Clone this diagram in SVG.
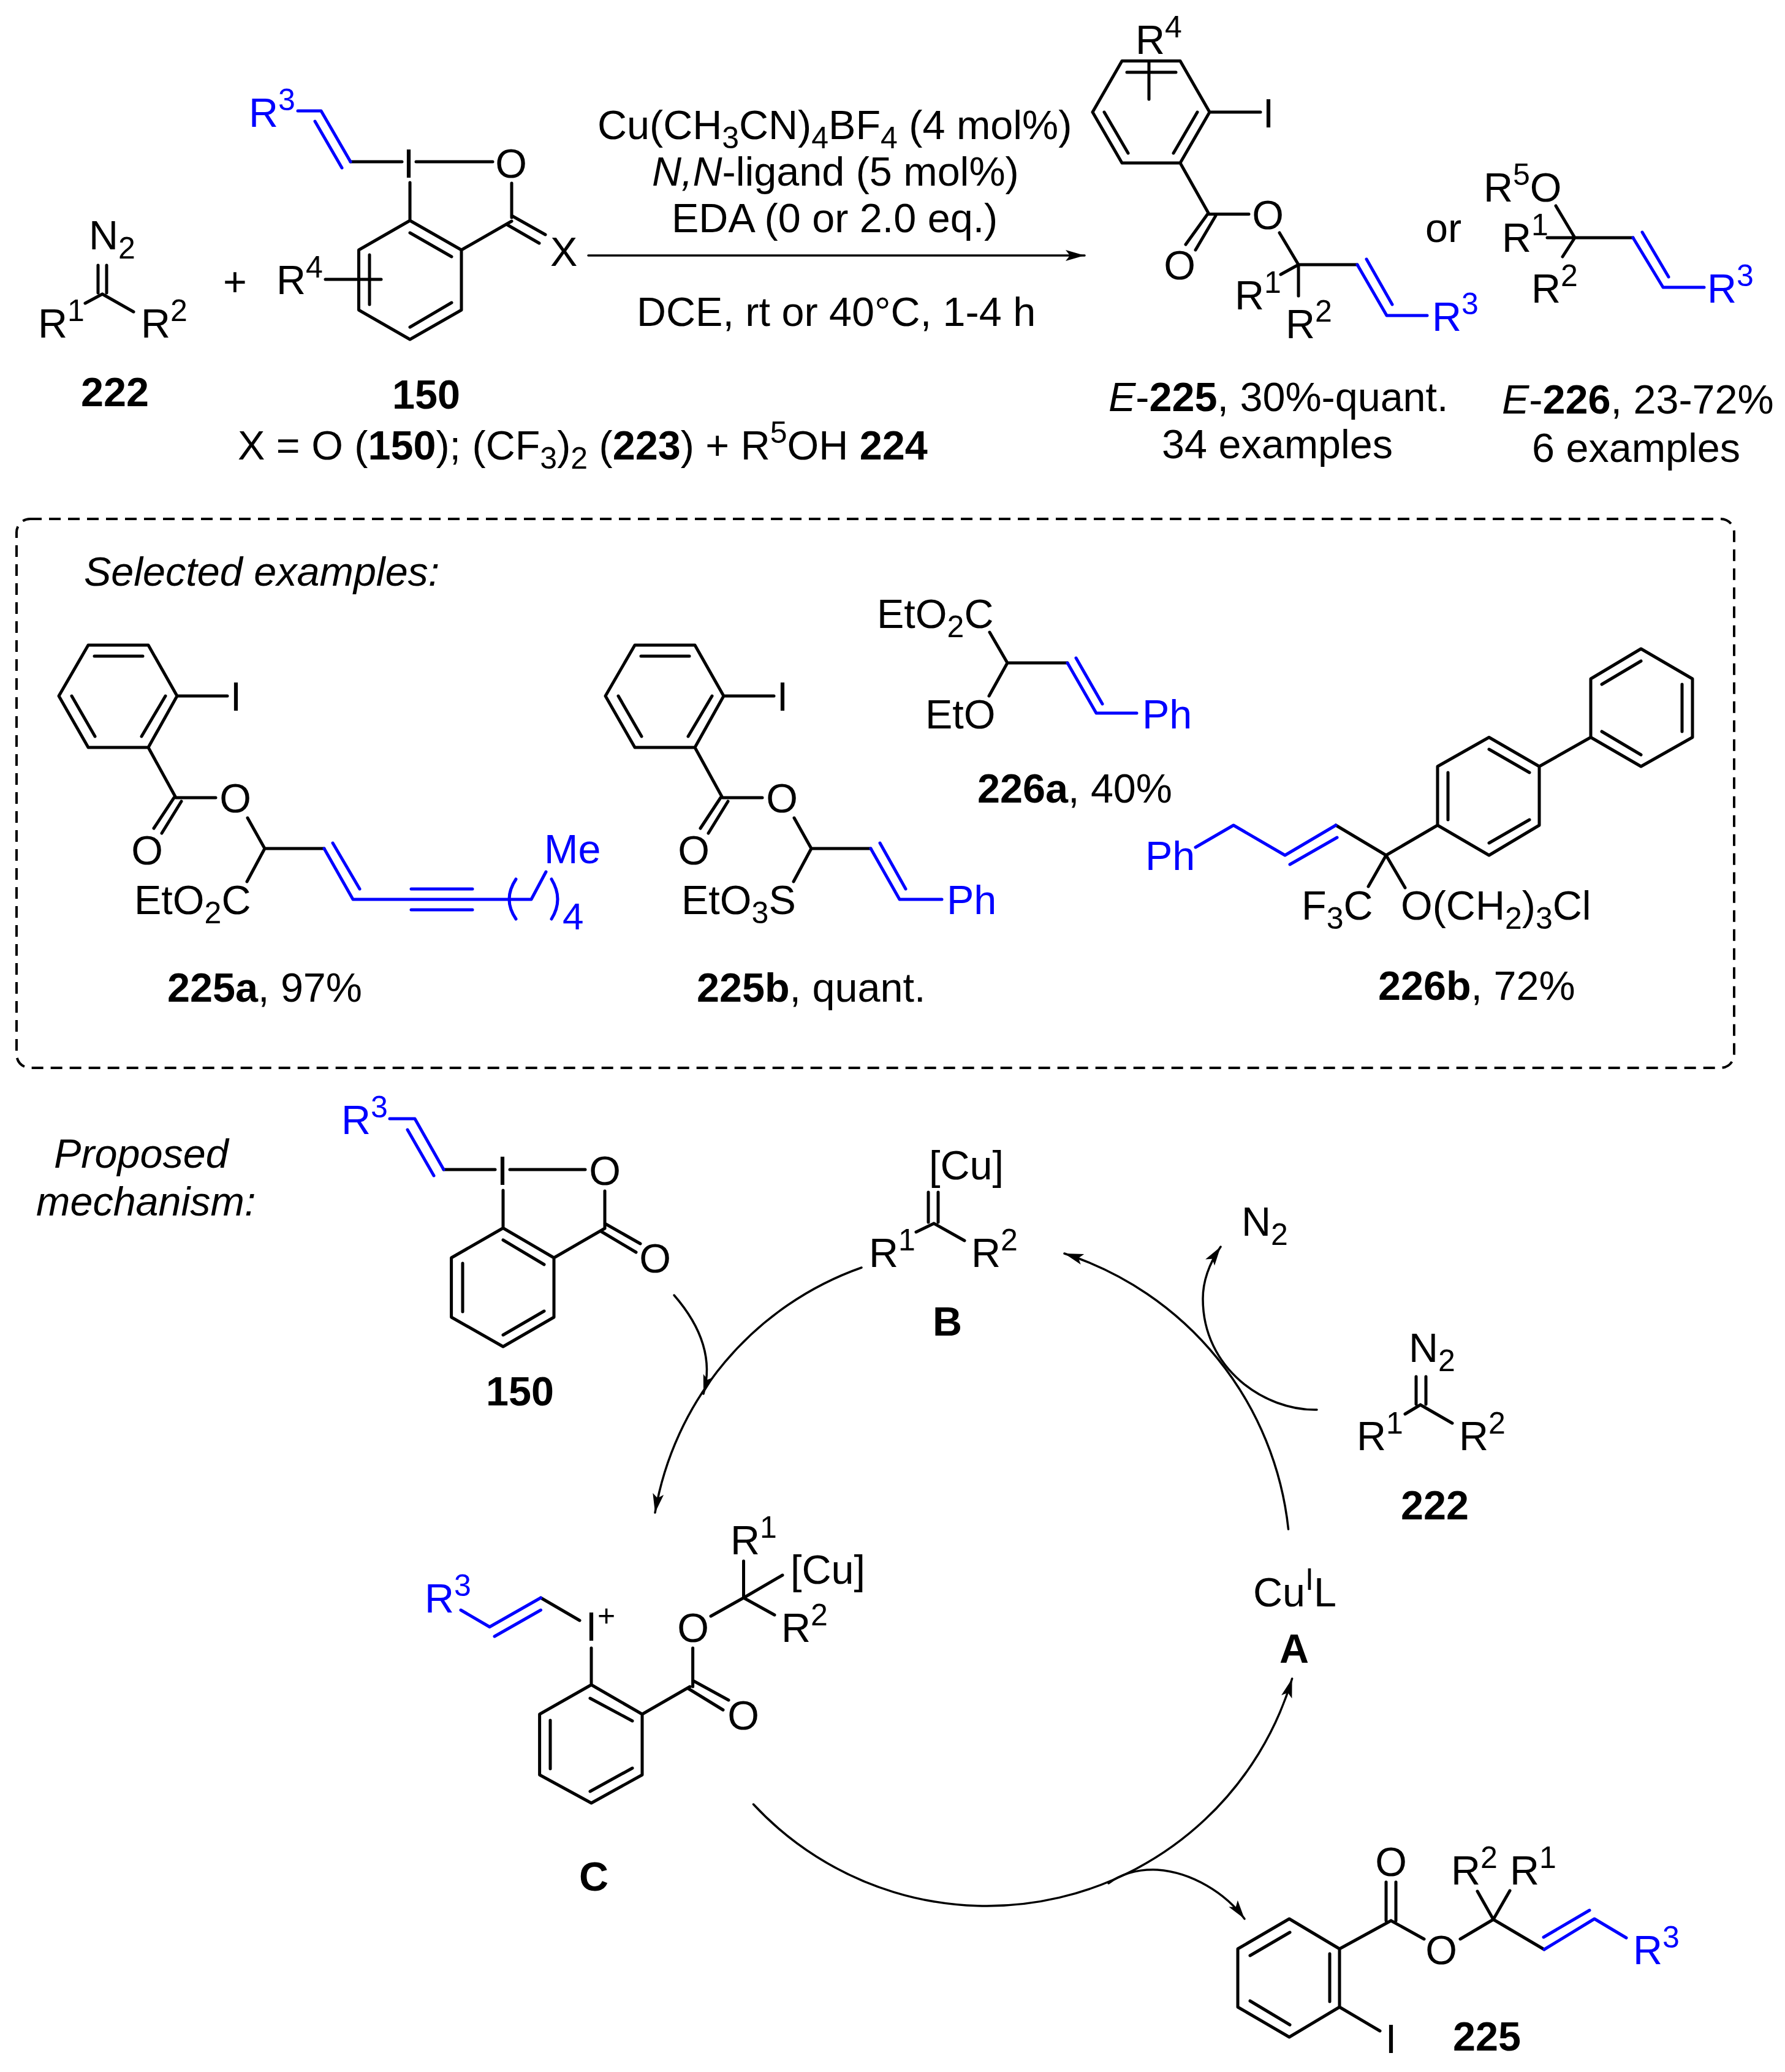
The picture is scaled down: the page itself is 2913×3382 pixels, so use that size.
<svg xmlns="http://www.w3.org/2000/svg" width="2913" height="3382" viewBox="0 0 2913 3382">
<style>
text{font-family:"Liberation Sans",Arial,sans-serif;font-size:66.5px;fill:#000}
text.v{fill:#0000ff}
.s{font-size:50px}
.bd{font-weight:bold}
.it{font-style:italic}
path{fill:none;stroke-linecap:round;stroke-linejoin:round}
.k{stroke:#000;stroke-width:5}
.u{stroke:#0000ff;stroke-width:5}
.a{stroke:#000;stroke-width:3.5}
.m{text-anchor:middle}
</style>
<defs>
<marker id="head" markerUnits="userSpaceOnUse" markerWidth="40" markerHeight="24" refX="34" refY="12" orient="auto">
<polygon points="34,12 3,3 10,12 3,21" fill="#000"/>
</marker>
</defs>
<rect width="2913" height="3382" fill="#fff"/>

<g id="reagent-222">
<path class="k" d="M160,433V478M174,433V478M167,480L139,495M167,480L218,509"/>
<text x="145" y="407">N<tspan class="s" dy="15">2</tspan></text>
<text x="62" y="551">R<tspan class="s" dy="-27">1</tspan></text>
<text x="230" y="551">R<tspan class="s" dy="-27">2</tspan></text>
<text class="bd" x="132" y="663">222</text>
</g>
<text id="plus" x="364" y="483">+</text>
<g id="reagent-150">
<path class="k" d="M669,360L753,408V506L669,554L585.5,506V408ZM669,380L737,419M669,534L737,494M603,416V497M531,456H622M669,298V360M679,264H804M572,264H656M835,299V355M753,408L835,361M835,352L890,383M828,367L880,397"/>
<path class="u" d="M486,181H524L572,264M514,198L558,274"/>
<text class="v" x="406" y="207">R<tspan class="s" dy="-27">3</tspan></text>
<text class="m" x="667" y="290">I</text>
<text class="m" x="834" y="290">O</text>
<text x="898" y="434">X</text>
<text x="451" y="480">R<tspan class="s" dy="-27">4</tspan></text>
<text class="bd" x="640" y="667">150</text>
</g>
<text id="x-note" x="388" y="750">X = O (<tspan class="bd">150</tspan>); (CF<tspan class="s" dy="15">3</tspan><tspan dy="-15">)</tspan><tspan class="s" dy="15">2</tspan><tspan dy="-15"> (</tspan><tspan class="bd">223</tspan>) + R<tspan class="s" dy="-27">5</tspan><tspan dy="27">OH </tspan><tspan class="bd">224</tspan></text>

<g id="conditions">
<text x="975" y="227">Cu(CH<tspan class="s" dy="15">3</tspan><tspan dy="-15">CN)</tspan><tspan class="s" dy="15">4</tspan><tspan dy="-15">BF</tspan><tspan class="s" dy="15">4</tspan><tspan dy="-15"> (4 mol%)</tspan></text>
<text x="1064" y="303"><tspan class="it">N,N</tspan>-ligand (5 mol%)</text>
<text x="1096" y="379">EDA (0 or 2.0 eq.)</text>
<text x="1039" y="532">DCE, rt or 40°C, 1-4 h</text>
</g>

<g id="product-225-top">
<path class="k" d="M1831,99.5H1926L1974,183L1926,266H1831L1783,183ZM1839,118H1919M1875,99.5V162M1802,183L1841,250M1954,183L1915,250M1974,183H2057M1926,266L1973,349.5H2038M1971,349L1935,399M1984,352L1951,408M2088,380L2119,432L2090,448M2119,432V483M2119,432H2215"/>
<path class="u" d="M2215,432L2263,515H2329M2230,423L2272,497"/>
<text x="1853" y="88">R<tspan class="s" dy="-27">4</tspan></text>
<text class="m" x="2070" y="208">I</text>
<text class="m" x="2069" y="374">O</text>
<text class="m" x="1925" y="456">O</text>
<text x="2015" y="505">R<tspan class="s" dy="-27">1</tspan></text>
<text x="2098" y="552">R<tspan class="s" dy="-27">2</tspan></text>
<text class="v" x="2337" y="540">R<tspan class="s" dy="-27">3</tspan></text>
<text x="1809" y="671"><tspan class="it">E</tspan>-<tspan class="bd">225</tspan>, 30%-quant.</text>
<text x="1896" y="748">34 examples</text>
</g>
<text id="or" x="2326" y="395">or</text>
<g id="product-226-top">
<path class="k" d="M2539,336L2570,388L2550,419M2525,388H2665"/>
<path class="u" d="M2665,388L2714,469H2781M2680,379L2723,452"/>
<text x="2421" y="329">R<tspan class="s" dy="-27">5</tspan><tspan dy="27">O</tspan></text>
<text x="2451" y="411">R<tspan class="s" dy="-27">1</tspan></text>
<text x="2499" y="494">R<tspan class="s" dy="-27">2</tspan></text>
<text class="v" x="2786" y="494">R<tspan class="s" dy="-27">3</tspan></text>
<text x="2451" y="675"><tspan class="it">E</tspan>-<tspan class="bd">226</tspan>, 23-72%</text>
<text x="2500" y="754">6 examples</text>
</g>

<g id="selected-box">
<rect x="27" y="847" width="2803" height="896" rx="22" ry="22" fill="none" stroke="#000" stroke-width="4" stroke-dasharray="19 12"/>
<text class="it" x="137" y="956">Selected examples:</text>
</g>

<g id="ex-225a">
<path class="k" d="M144,1053H242L289,1136L242,1220H144L96,1136ZM154,1071H233M117,1136L155,1202M270,1136L231,1202M289,1136H371M242,1220L287,1302H352M284,1302L251,1352M296,1308L264,1360M404,1335L432,1385H529M432,1385L403,1439"/>
<path class="u" d="M529,1385L576,1468H867L891,1423M543,1376L587,1451M671,1451H771M671,1485H771M842,1435Q820,1468 842,1500M900,1435Q920,1468 900,1500"/>
<text class="m" x="385" y="1160">I</text>
<text class="m" x="384" y="1326">O</text>
<text class="m" x="240" y="1411">O</text>
<text x="219" y="1492">EtO<tspan class="s" dy="15">2</tspan><tspan dy="-15">C</tspan></text>
<text class="v" x="888" y="1409">Me</text>
<text class="v" x="918" y="1517" style="font-size:62px">4</text>
<text x="273" y="1635"><tspan class="bd">225a</tspan>, 97%</text>
</g>
<g id="ex-225b">
<path class="k" d="M1036,1053H1134L1181,1136L1134,1220H1036L988,1136ZM1046,1071H1125M1009,1136L1047,1202M1162,1136L1123,1202M1181,1136H1263M1134,1220L1179,1302H1244M1176,1302L1143,1352M1188,1308L1156,1360M1296,1335L1324,1385H1421M1324,1385L1295,1439"/>
<path class="u" d="M1421,1385L1468,1468H1537M1436,1376L1478,1451"/>
<text class="m" x="1277" y="1160">I</text>
<text class="m" x="1276" y="1326">O</text>
<text class="m" x="1132" y="1411">O</text>
<text x="1112" y="1492">EtO<tspan class="s" dy="15">3</tspan><tspan dy="-15">S</tspan></text>
<text class="v" x="1545" y="1492">Ph</text>
<text x="1137" y="1635"><tspan class="bd">225b</tspan>, quant.</text>
</g>
<g id="ex-226a">
<path class="k" d="M1615,1032L1644,1082H1742M1644,1082L1614,1136"/>
<path class="u" d="M1742,1082L1789,1164H1855M1756,1074L1799,1149"/>
<text x="1431" y="1025">EtO<tspan class="s" dy="15">2</tspan><tspan dy="-15">C</tspan></text>
<text x="1510" y="1189">EtO</text>
<text class="v" x="1864" y="1189">Ph</text>
<text x="1595" y="1310"><tspan class="bd">226a</tspan>, 40%</text>
</g>
<g id="ex-226b">
<path class="k" d="M2180,1347L2262,1396L2233,1447M2262,1396L2293,1449M2262,1396L2346,1347M2346,1347V1251L2430,1203.5L2512,1251V1347L2430,1396ZM2363,1261V1338M2430,1223L2496,1261M2430,1376L2496,1338M2512,1251L2596,1203.5M2596,1203.5V1108L2678,1059L2762,1108V1203.5L2678,1251ZM2614,1117L2678,1079M2745,1117V1194M2614,1194L2678,1232"/>
<path class="u" d="M1951,1383L2013,1347L2097,1396L2180,1347M2105,1411L2182,1367"/>
<text class="v" x="1869" y="1420">Ph</text>
<text x="2124" y="1501">F<tspan class="s" dy="15">3</tspan><tspan dy="-15">C</tspan></text>
<text x="2286" y="1501">O(CH<tspan class="s" dy="15">2</tspan><tspan dy="-15">)</tspan><tspan class="s" dy="15">3</tspan><tspan dy="-15">Cl</tspan></text>
<text x="2249" y="1632"><tspan class="bd">226b</tspan>, 72%</text>
</g>

<g id="mechanism-label">
<text class="it" x="88" y="1906">Proposed</text>
<text class="it" x="59" y="1984">mechanism:</text>
</g>
<g id="mech-150">
<path class="k" d="M821,2004.5L904,2053V2150L821,2198L736.6,2150V2053ZM821,2024L888,2064M755,2062V2141M821,2179L888,2140M724,1909H808M821,1943V2004M832,1909H955M987,1944V2004M904,2053L987,2005M987,1997L1045,2030M981,2010L1038,2044"/>
<path class="u" d="M636,1826H677L724,1909M665,1844L708,1919"/>
<text class="v" x="557" y="1851">R<tspan class="s" dy="-27">3</tspan></text>
<text class="m" x="820" y="1934">I</text>
<text class="m" x="987" y="1934">O</text>
<text class="m" x="1069" y="2077">O</text>
<text class="bd" x="793" y="2294">150</text>
</g>
<g id="mech-B">
<path class="k" d="M1515,1946V1995M1531,1946V1995M1524,1997L1495,2011M1524,1997L1574,2025"/>
<text x="1516" y="1925">[Cu]</text>
<text x="1418" y="2068">R<tspan class="s" dy="-27">1</tspan></text>
<text x="1585" y="2068">R<tspan class="s" dy="-27">2</tspan></text>
<text class="bd" x="1522" y="2180">B</text>
</g>
<text id="mech-N2" x="2026" y="2017">N<tspan class="s" dy="15">2</tspan></text>
<g id="mech-222">
<path class="k" d="M2311,2247V2292M2327,2247V2292M2318,2293L2293,2308M2318,2293L2370,2323"/>
<text x="2299" y="2223">N<tspan class="s" dy="15">2</tspan></text>
<text x="2214" y="2367">R<tspan class="s" dy="-27">1</tspan></text>
<text x="2381" y="2367">R<tspan class="s" dy="-27">2</tspan></text>
<text class="bd" x="2286" y="2480">222</text>
</g>
<g id="mech-A">
<text x="2045" y="2622">Cu<tspan class="s" dy="-27">I</tspan><tspan dy="27">L</tspan></text>
<text class="bd" x="2088" y="2714">A</text>
</g>
<g id="mech-C">
<path class="k" d="M965,2750L1048,2798V2897L965,2943L880.6,2897V2798ZM963,2772L1032,2809M898,2808V2887M963,2924L1032,2886M965,2690V2750M1048,2798L1126,2753M1130.6,2690V2753M1130.6,2743L1189,2775M1123,2756L1180,2791M1160,2638L1213.5,2608L1277,2571M1213.5,2548V2608L1264,2636M882.5,2608L946,2645"/>
<path class="u" d="M752,2628L799,2655.5L882.5,2608M807,2671L882.5,2628"/>
<text class="v" x="693" y="2632">R<tspan class="s" dy="-27">3</tspan></text>
<text class="m" x="965" y="2678">I</text>
<text class="s" x="975" y="2654">+</text>
<text class="m" x="1131" y="2680">O</text>
<text class="m" x="1213" y="2823">O</text>
<text x="1192" y="2537">R<tspan class="s" dy="-27">1</tspan></text>
<text x="1290" y="2585">[Cu]</text>
<text x="1275" y="2680">R<tspan class="s" dy="-27">2</tspan></text>
<text class="bd" x="945" y="3086">C</text>
</g>
<g id="mech-225">
<path class="k" d="M2104,3132L2186,3181V3276L2104,3325L2020,3276V3181ZM2105,3154L2040,3192M2170,3189V3267M2105,3305L2040,3266M2186,3276L2252,3315M2186,3181L2270,3135M2262,3072V3135M2278,3072V3135M2270,3135L2324,3165M2383,3165L2437,3133L2411,3087M2437,3133L2464,3086M2437,3133L2520,3182"/>
<path class="u" d="M2520,3182L2602,3132L2654,3163M2519,3162L2594,3118"/>
<text class="m" x="2270" y="3062">O</text>
<text class="m" x="2352" y="3206">O</text>
<text class="m" x="2270" y="3351">I</text>
<text x="2368" y="3076">R<tspan class="s" dy="-27">2</tspan></text>
<text x="2464" y="3076">R<tspan class="s" dy="-27">1</tspan></text>
<text class="v" x="2665" y="3206">R<tspan class="s" dy="-27">3</tspan></text>
<text class="bd" x="2371" y="3347">225</text>
</g>

<g id="connectors">
<path class="a" marker-end="url(#head)" d="M960,417H1770"/>
<path class="a" marker-end="url(#head)" d="M2102.5,2496A532,532 0 0 0 1737,2046"/>
<path class="a" marker-end="url(#head)" d="M1406,2069A516,516 0 0 0 1069,2469"/>
<path class="a" marker-end="url(#head)" d="M1229.5,2945A520,520 0 0 0 2108.6,2740"/>
<path class="a" marker-end="url(#head)" d="M1100,2114C1140,2160 1165,2215 1148,2275"/>
<path class="a" marker-end="url(#head)" d="M2149,2301C2065,2303 1963,2235 1963,2120C1963,2090 1975,2060 1992,2035"/>
<path class="a" marker-end="url(#head)" d="M1809,3074C1835,3055 1865,3051 1889,3052C1945,3056 2000,3090 2031,3132"/>
</g>
</svg>
